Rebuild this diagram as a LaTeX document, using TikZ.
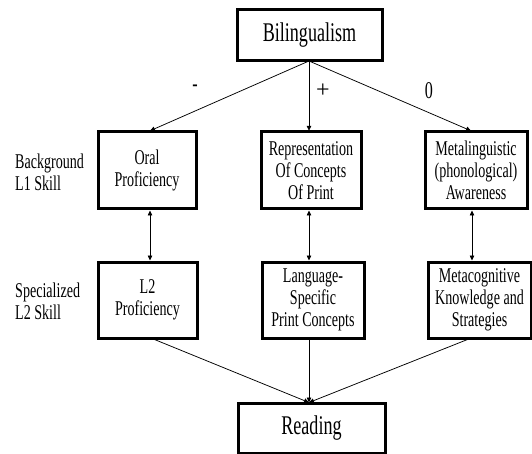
\documentclass[tikz,border=0pt]{standalone}
\usepackage{fontspec}
\setmainfont{Liberation Serif}[FakeStretch=0.67]
\newfontfamily\plainserif{Liberation Serif}
\usetikzlibrary{arrows.meta}
\begin{document}
\begin{tikzpicture}[x=1pt,y=-1pt,
  box/.style={draw,line width=3pt,inner sep=0pt,align=center,
    font=\fontsize{21}{22}\selectfont},
  bigbox/.style={box,font=\fontsize{27}{28}\selectfont},
  side/.style={inner sep=0pt,align=left,anchor=west,font=\fontsize{21}{22}\selectfont},
  sign/.style={inner sep=0pt,font=\fontsize{24}{24}\selectfont},
  conn/.style={line width=0.75pt,-{Triangle[length=5pt,width=4.5pt]}},
  dconn/.style={line width=0.75pt,{Triangle[length=5pt,width=4.5pt]}-{Triangle[length=5pt,width=4.5pt]}}]
\useasboundingbox (0,0) rectangle (532,454);
% top and bottom
\node[bigbox,minimum width=145pt,minimum height=51pt] (bil) at (309.5,35.5) {Bilingualism};
\node[bigbox,minimum width=147pt,minimum height=50pt] (read) at (311.5,428) {Reading};
% row 1
\node[box,minimum width=98pt,minimum height=77pt] (oral) at (147,170.5) {Oral\\Proficiency};
\node[box,minimum width=100pt,minimum height=77pt] (rep) at (311,170.5) {Representation\\Of Concepts\\Of Print};
\node[box,minimum width=102pt,minimum height=77pt] (meta) at (476,170.5) {Metalinguistic\\(phonological)\\Awareness};
% row 2
\node[box,minimum width=99pt,minimum height=76pt] (ltwo) at (147.5,300) {L2\\Proficiency};
\node[box,minimum width=102pt,minimum height=76pt] (lang) at (313,300) {Language-\\Specific\\Print Concepts};
\node[box,minimum width=103pt,minimum height=76pt] (metac) at (479.5,300) {Metacognitive\\Knowledge and\\Strategies};
% side labels
\node[side] (bg) at (15,172) {Background\\L1 Skill};
\node[side] (sp) at (15,301) {Specialized\\L2 Skill};
% signs
\node[sign] (minus) at (195,88.5) {-};
\node[sign,font=\plainserif\fontsize{24}{24}\selectfont] (plus) at (323,91) {+};
\node[sign] (zero) at (429,91) {0};
% connector end points
\coordinate (bs) at (309,61);
\coordinate (t1) at (150,130.8);
\coordinate (t2) at (309,130.8);
\coordinate (t3) at (471,130.8);
\coordinate (rt) at (309,402.5);
\draw[conn] (bs) -- (t1);
\draw[conn] (bs) -- (t2);
\draw[conn] (bs) -- (t3);
\draw[dconn] (oral.south -| t1) -- (ltwo.north -| t1);
\draw[dconn] (rep.south -| t2) -- (lang.north -| t2);
\draw[dconn] ([xshift=1pt]meta.south -| t3) -- ([xshift=1pt]metac.north -| t3);
\draw[conn] ([xshift=7pt]ltwo.south) -- (rt);
\draw[conn] (lang.south -| rt) -- (rt);
\draw[conn] ([xshift=-12pt]metac.south) -- (rt);
\end{tikzpicture}
\end{document}
